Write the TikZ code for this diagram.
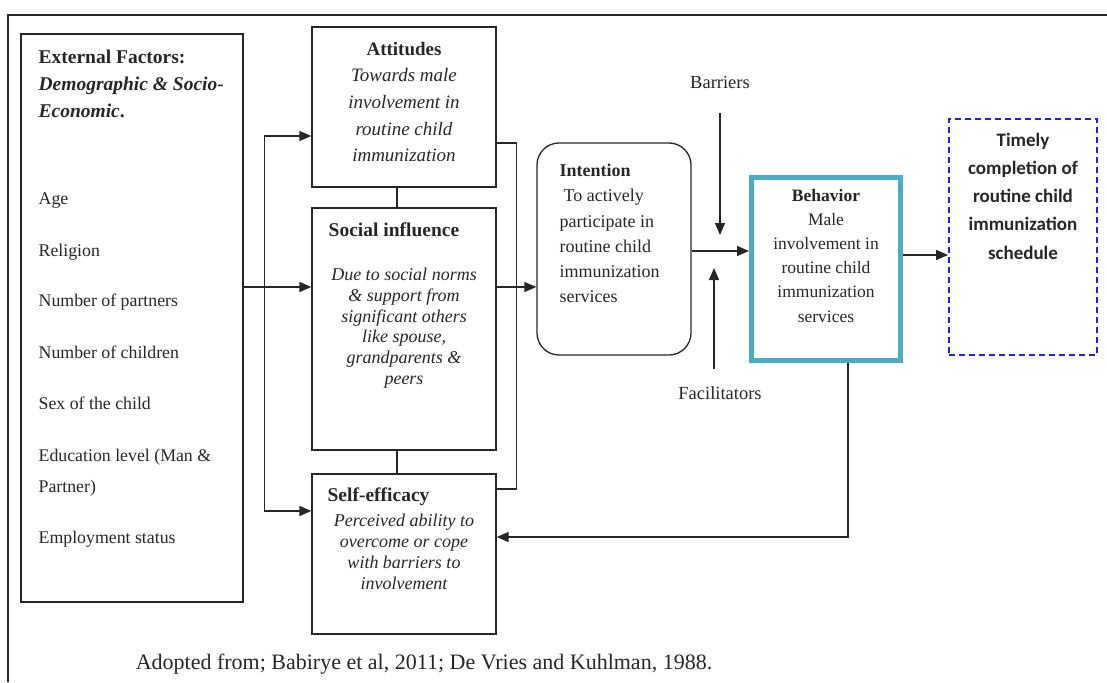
\documentclass[tikz,border=0pt]{standalone}
\usepackage{fontspec}
\setmainfont{Liberation Serif}
\newfontfamily\calibri{Carlito}
\usetikzlibrary{arrows.meta, calc, positioning}
\definecolor{strich}{HTML}{262626}
\definecolor{tuerkis}{HTML}{4BACC6}
\definecolor{blau}{HTML}{1F1FF5}
\newcommand{\setfs}[2]{\fontsize{#1}{#2}\selectfont}

\begin{document}
\begin{tikzpicture}[x=1pt, y=-1pt, line width=1.3pt,
    box/.style={draw=strich, inner sep=0pt, minimum width=184pt},
    txt/.style={inner sep=0pt, text=strich},
    arr/.style={draw=strich, -{Triangle[length=12pt,width=10pt]}},
    link/.style={draw=strich}]
  \useasboundingbox (0,0) rectangle (1107,682);
  % frame
  \draw[strich, line width=1.5pt] (8,682) -- (8,15) -- (1107,15);

  % external factors
  \node[box, minimum width=222pt, minimum height=568pt] (ext) at (132,318) {};
  \node[txt, anchor=north west, align=left, font=\setfs{19.5}{27}\bfseries] (extT) at (38,49.3)
    {External Factors:\\ \textit{Demographic \& Socio-}\\ \textit{Economic}.};
  \foreach \y/\txt [count=\i] in {198/Age, 250/Religion, 300/Number of partners,
      352/Number of children, 403/Sex of the child, 455/Education level (Man \&,
      486/Partner), 537/Employment status}
    \node[txt, anchor=base west, font=\setfs{17.8}{21}] (item\i) at (38,\y+6) {\txt};

  % attitudes, social influence, self-efficacy
  \node[box, minimum height=160pt] (att) at (404,107) {};
  \node[txt, anchor=north, align=center, font=\setfs{19}{26.7}\itshape] (attT) at (404,41.3)
    {\textbf{\upshape Attitudes}\\ Towards male\\ involvement in\\ routine child\\ immunization};
  \node[box, minimum height=242pt] (soc) at (404,329) {};
  \node[txt, anchor=north, font=\setfs{19.5}{24}\bfseries] (socH) at (394,222.3) {Social influence};
  \node[txt, anchor=north, align=center, font=\setfs{18}{20.8}\itshape] (socT) at (404,267.3)
    {Due to social norms\\ \& support from\\ significant others\\ like spouse,\\ grandparents \&\\ peers};
  \node[box, minimum height=160pt] (selfe) at (404,554) {};
  \node[txt, anchor=north west, font=\setfs{19.5}{24}\bfseries] (selfeH) at (327,487.3) {Self-efficacy};
  \node[txt, anchor=north, align=center, font=\setfs{18}{21}\itshape] (selfeT) at (404,513.3)
    {Perceived ability to\\ overcome or cope\\ with barriers to\\ involvement};

  % intention
  \node[box, rounded corners=22pt, minimum width=154pt, minimum height=212pt] (int) at (614,249) {};
  \node[txt, anchor=north west, align=left, font=\setfs{18}{25.3}] (intT) at (559,163.3)
    {\textbf{Intention}\\ \hspace{4pt}To actively\\ participate in\\ routine child\\ immunization\\ services};

  % behavior
  \node[draw=tuerkis, line width=5pt, inner sep=0pt, minimum width=149pt, minimum height=183pt] (beh) at (826,269) {};
  \node[txt, anchor=north, align=center, font=\setfs{17.5}{24.2}] (behT) at (826,188.3)
    {\textbf{Behavior}\\ Male\\ involvement in\\ routine child\\ immunization\\ services};

  % outcome
  \node[draw=blau, line width=1.8pt, dash pattern=on 6pt off 4pt, inner sep=0pt,
    minimum width=148pt, minimum height=236pt] (tim) at (1023,237) {};
  \node[txt, anchor=north, align=center, font=\calibri\setfs{19}{28.2}\bfseries] (timT) at (1023,132.3)
    {Timely\\ completion of\\ routine child\\ immunization\\ schedule};

  \node[txt, font=\setfs{18.5}{22}] (barr) at (720,82) {Barriers};
  \node[txt, font=\setfs{18.5}{22}] (fac) at (720,393) {Facilitators};

  % connectors
  \draw[arr] ([yshift=31pt]ext.east) -- ([yshift=31pt]ext.east -| soc.west);
  \draw[arr] ([yshift=31pt, xshift=21pt]ext.east) |- ([yshift=-29pt]att.west);
  \draw[arr] ([yshift=31pt, xshift=21pt]ext.east) |- ([yshift=43pt]selfe.west);
  \draw[link] ([xshift=-7pt]att.south) -- ([xshift=-7pt]soc.north);
  \draw[link] ([xshift=-7pt]soc.south) -- ([xshift=-7pt]selfe.north);
  \draw[link] ([yshift=-36pt]att.east) -| ($([yshift=65pt]selfe.east)+(20,0)$) -- ([yshift=65pt]selfe.east);
  \draw[arr] ([yshift=42pt]soc.east) -- ([yshift=42pt]soc.east -| int.west);
  \draw[arr] ([yshift=-2pt]int.east) -- ([yshift=-2pt]int.east -| beh.west);
  \draw[arr] ([yshift=-24pt]barr.south) -- ([yshift=14pt]barr.south |- int.east);
  \draw[arr] ([yshift=17pt, xshift=-6pt]fac.north) -- ([yshift=-19pt, xshift=-6pt]fac.north |- int.east);
  \draw[arr] ([yshift=14pt]beh.east) -- ([yshift=14pt]beh.east -| tim.west);
  \draw[arr] ([xshift=22pt]beh.south) |- ([yshift=17pt]selfe.east);

  \node[txt, font=\setfs{22}{26}] (src) at (424,664)
    {Adopted from; Babirye et al, 2011; De Vries and Kuhlman, 1988.};
\end{tikzpicture}
\end{document}
